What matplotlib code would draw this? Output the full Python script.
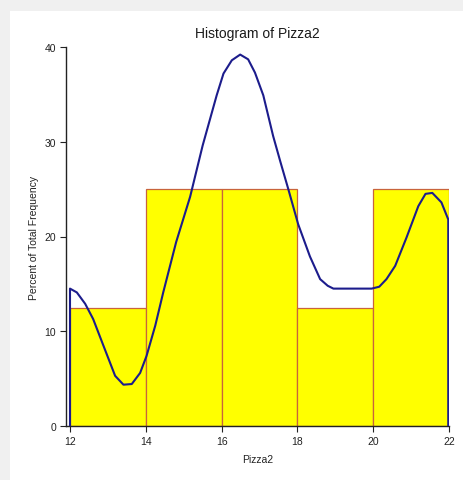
import matplotlib
matplotlib.use("Agg")
import matplotlib.pyplot as plt
from matplotlib.patches import Rectangle

plt.rcParams['font.family'] = ['Liberation Sans', 'DejaVu Sans']

# Histogram data
bin_edges = [12, 14, 16, 18, 20, 22]
percents = [12.5, 25.0, 25.0, 12.5, 25.0]

# Density trace
curve_x = [12.0, 12.18, 12.40, 12.61, 12.88, 13.19, 13.41, 13.63, 13.85, 14.02,
           14.25, 14.46, 14.80, 15.17, 15.50, 15.87, 16.05, 16.27, 16.49, 16.70,
           16.88, 17.10, 17.36, 17.55, 17.76, 18.02, 18.33, 18.60, 18.80, 18.95,
           19.96, 20.16, 20.35, 20.58, 20.88, 21.19, 21.38, 21.56, 21.80, 21.98]
curve_y = [14.5, 14.1, 12.9, 11.3, 8.5, 5.3, 4.36, 4.43, 5.6, 7.4,
           10.6, 14.1, 19.4, 24.2, 29.6, 34.9, 37.2, 38.6, 39.2, 38.7,
           37.3, 34.9, 30.6, 27.9, 25.0, 21.3, 17.9, 15.5, 14.8, 14.5,
           14.5, 14.7, 15.5, 16.9, 19.9, 23.2, 24.5, 24.6, 23.6, 21.8]

W, H = 464, 481
fig = plt.figure(figsize=(W / 100, H / 100), dpi=100)
fig.patch.set_facecolor('#f0f0f0')
fig.patches.append(Rectangle((10 / W, 0), 1 - 10 / W, 1 - 12 / H,
                             transform=fig.transFigure, facecolor='white',
                             edgecolor='none', zorder=-10))

ax = fig.add_axes([66 / W, (H - 427) / H, (449 - 66) / W, (427 - 48) / H])
ax.set_zorder(1)
ax.set_facecolor('none')

widths = [bin_edges[i + 1] - bin_edges[i] for i in range(len(percents))]
ax.bar(bin_edges[:-1], percents, width=widths, align='edge',
       color='#ffff00', edgecolor='#c8643c', linewidth=0.9, zorder=2)

px = [curve_x[0]] + curve_x + [curve_x[-1]]
py = [0] + curve_y + [0]
ax.plot(px, py, color='#1c1c8c', linewidth=1.5, zorder=3, solid_joinstyle='round')

ax.set_xlim(12 - 4 / 37.9, 22)
ax.set_ylim(0, 40)
ax.set_xticks([12, 14, 16, 18, 20, 22])
ax.set_yticks([0, 10, 20, 30, 40])
for s in ['top', 'right']:
    ax.spines[s].set_visible(False)
for s in ['left', 'bottom']:
    ax.spines[s].set_linewidth(1.0)
    ax.spines[s].set_color('#222222')
ax.tick_params(axis='both', length=4, width=0.8, pad=3, labelsize=7.5,
               colors='#222222')

ax.set_title('Histogram of Pizza2', fontsize=10, color='#1a1a1a', pad=7.5)
ax.set_xlabel('Pizza2', fontsize=7.5, color='#222222', labelpad=6)
ax.set_ylabel('Percent of Total Frequency', fontsize=7.5, color='#222222', labelpad=4)

fig.savefig('out.png', dpi=100, facecolor=fig.get_facecolor())
